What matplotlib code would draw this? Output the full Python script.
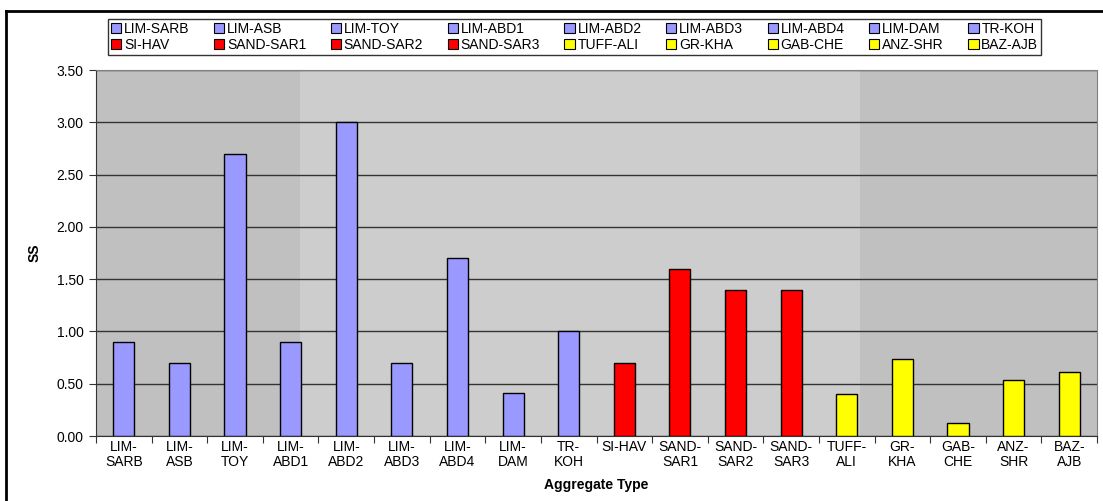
import numpy as np
import matplotlib
matplotlib.use("Agg")
import matplotlib.pyplot as plt
from matplotlib.patches import Patch, Rectangle
from matplotlib.lines import Line2D

# Daten
names = ["LIM-SARB", "LIM-ASB", "LIM-TOY", "LIM-ABD1", "LIM-ABD2", "LIM-ABD3",
         "LIM-ABD4", "LIM-DAM", "TR-KOH", "SI-HAV", "SAND-SAR1", "SAND-SAR2",
         "SAND-SAR3", "TUFF-ALI", "GR-KHA", "GAB-CHE", "ANZ-SHR", "BAZ-AJB"]
tick_labels = ["LIM-\nSARB", "LIM-\nASB", "LIM-\nTOY", "LIM-\nABD1", "LIM-\nABD2",
               "LIM-\nABD3", "LIM-\nABD4", "LIM-\nDAM", "TR-\nKOH", "SI-HAV",
               "SAND-\nSAR1", "SAND-\nSAR2", "SAND-\nSAR3", "TUFF-\nALI", "GR-\nKHA",
               "GAB-\nCHE", "ANZ-\nSHR", "BAZ-\nAJB"]
ss = [0.90, 0.70, 2.70, 0.90, 3.00, 0.70, 1.70, 0.41, 1.00,
      0.70, 1.60, 1.40, 1.40, 0.40, 0.74, 0.12, 0.54, 0.61]
groups = ["lim"] * 9 + ["sand"] * 4 + ["volc"] * 5

farben = {"lim": "#9999FF", "sand": "#FF0000", "volc": "#FFFF00"}
colors = [farben[g] for g in groups]

plt.rcParams['font.family'] = ['Liberation Sans', 'DejaVu Sans']
fs = 10

fig = plt.figure(figsize=(11.03, 5.01), dpi=100)
ax = fig.add_axes([96 / 1103, 1 - 436 / 501, 1001 / 1103, 366 / 501])

ax.set_facecolor("#C0C0C0")
# hellerer Bereich in der Mitte (Wasserzeichen)
ax.add_patch(Rectangle((0.204, 0), 0.559, 1, transform=ax.transAxes,
                       facecolor="#CDCDCD", edgecolor="none", zorder=0))

x = np.arange(len(names))
ax.bar(x, ss, width=0.38, color=colors, edgecolor="black", linewidth=1.0, zorder=3)

ax.set_xlim(-0.5, len(names) - 0.5)
ax.set_ylim(0, 3.5)
yt = np.arange(0, 3.51, 0.5)
ax.set_yticks(yt)
ax.set_yticklabels([f"{v:.2f}" for v in yt], fontsize=fs)
ax.yaxis.grid(True, color="#333333", linewidth=1.0, zorder=1)
ax.set_axisbelow(True)

ax.set_xticks(np.arange(-0.5, len(names), 1.0), minor=False)
ax.set_xticklabels([])
ax.set_xticks(x, minor=True)
ax.set_xticklabels(tick_labels, minor=True, fontsize=fs, linespacing=1.1)
ax.tick_params(axis="x", which="minor", length=0, pad=3)
ax.tick_params(axis="x", which="major", length=5, color="#333333")
ax.tick_params(axis="y", length=5, color="#333333", pad=4)

for s in ["top", "right"]:
    ax.spines[s].set_color("#808080")
for s in ["left", "bottom"]:
    ax.spines[s].set_color("#333333")

ax.set_xlabel("Aggregate Type", fontsize=fs, fontweight="bold")
ax.xaxis.set_label_coords(0.5, -(478 - 436) / 366)
ax.set_ylabel("SS", fontsize=fs, fontweight="bold")
ax.yaxis.set_label_coords((42 - 96) / 1001, 0.5)

# Legende zeilenweise anordnen (matplotlib fuellt spaltenweise)
ncol = 9
order = []
for c in range(ncol):
    for r in range(2):
        order.append(r * ncol + c)
handles = [Patch(facecolor=colors[i], edgecolor="black", linewidth=0.8) for i in order]
labels = [names[i] for i in order]
leg = fig.legend(handles, labels, ncol=ncol, loc="upper left",
                 bbox_to_anchor=(108 / 1103, 1 - 19 / 501),
                 fontsize=fs, frameon=True, fancybox=False, edgecolor="black",
                 handlelength=0.75, handleheight=0.75, handletextpad=0.2,
                 columnspacing=1.75, labelspacing=0.15, borderpad=0.2,
                 borderaxespad=0)
leg.get_frame().set_linewidth(1.0)

# Rahmen aussen
fig.add_artist(Line2D([6 / 1103, 6 / 1103], [0, 1 - 11 / 501], color="black", linewidth=2))
fig.add_artist(Line2D([6 / 1103, 1], [1 - 11 / 501, 1 - 11 / 501], color="black", linewidth=2))

fig.savefig("out.png", dpi=100)
